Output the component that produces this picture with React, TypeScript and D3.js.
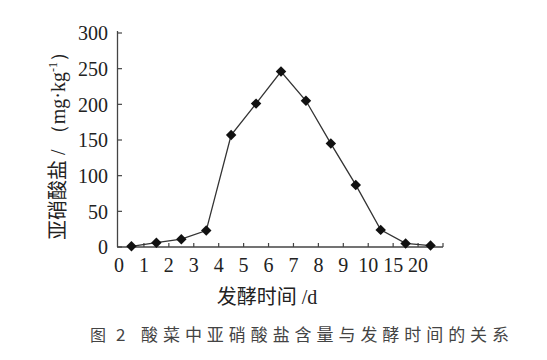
import React from "react";
import * as d3 from "d3";

const categories = ["0", "1", "2", "3", "4", "5", "6", "7", "8", "9", "10", "15", "20"];
const values = [1, 6, 11, 23, 157, 201, 246, 205, 145, 87, 24, 5, 2];
const yTicks = [0, 50, 100, 150, 200, 250, 300];

const W = 547, H = 360;
const x0 = 119, x1 = 443, y0 = 247, y1 = 33;

export default function App() {
  const xs = d3.scaleBand<string>().domain(categories).range([x0, x1]);
  const ys = d3.scaleLinear().domain([0, 300]).range([y0, y1]);
  const line = d3.line<number>()
    .x((_, i) => (xs(categories[i]) as number) + xs.bandwidth() / 2)
    .y((d) => ys(d));
  const num = "'Liberation Serif', 'DejaVu Serif', serif";
  const cjk = "'Noto Sans CJK SC', sans-serif";
  const diamond = d3.symbol().type(d3.symbolDiamond2).size(70)() as string;
  return (
    <svg width={W} height={H} style={{ position: "absolute", left: 0, top: 0, background: "#fff" }}>
      {/* axes */}
      <line x1={x0 - 1.5} x2={x0 - 1.5} y1={y1 - 2} y2={y0} stroke="#444" strokeWidth={1.3} />
      <line x1={x0 - 2} x2={x1} y1={y0} y2={y0} stroke="#444" strokeWidth={1.3} />
      {yTicks.map((t) => (
        <g key={t}>
          <line x1={x0 - 1.5} x2={x0 + 3} y1={ys(t)} y2={ys(t)} stroke="#444" strokeWidth={1.2} />
          <text x={108} y={ys(t)} dy="0.36em" textAnchor="end" fontFamily={num} fontSize={20} fill="#222">{t}</text>
        </g>
      ))}
      {categories.map((c) => (
        <g key={c}>
          {c !== "0" && <line x1={xs(c)!} x2={xs(c)!} y1={y0} y2={y0 - 4} stroke="#444" strokeWidth={1.2} />}
          <text x={xs(c)!} y={272} textAnchor="middle" fontFamily={num} fontSize={20} fill="#222">{c}</text>
        </g>
      ))}
      <line x1={x1} x2={x1} y1={y0} y2={y0 - 4} stroke="#444" strokeWidth={1.2} />
      <path d={line(values) as string} fill="none" stroke="#333" strokeWidth={1.3} />
      {values.map((v, i) => (
        <path key={i} d={diamond} transform={`translate(${(xs(categories[i]) as number) + xs.bandwidth() / 2},${ys(v)})`} fill="#111" />
      ))}
      {/* y label */}
      <text transform={`translate(65,141) rotate(-90)`} textAnchor="middle" fontSize={20} fill="#222">
        <tspan fontFamily={cjk}>亚硝酸盐</tspan>
        <tspan fontFamily={num}> / （mg·kg</tspan>
        <tspan fontFamily={num} fontSize={12} dy={-8}>-1</tspan>
        <tspan fontFamily={num} dy={8}>）</tspan>
      </text>
      {/* x label */}
      <text x={267} y={304} textAnchor="middle" fontSize={20} fill="#222">
        <tspan fontFamily={cjk}>发酵时间</tspan>
        <tspan fontFamily={num}> /d</tspan>
      </text>
      {/* caption */}
      <text x={90} y={341} fontFamily={cjk} fontSize={16} fill="#444">图</text>
      <text x={116} y={341} fontFamily={cjk} fontSize={17} fill="#444">2</text>
      <text x={141} y={341} fontFamily={cjk} fontSize={17} fill="#444" textLength={368} lengthAdjust="spacing">
        酸菜中亚硝酸盐含量与发酵时间的关系
      </text>
    </svg>
  );
}
